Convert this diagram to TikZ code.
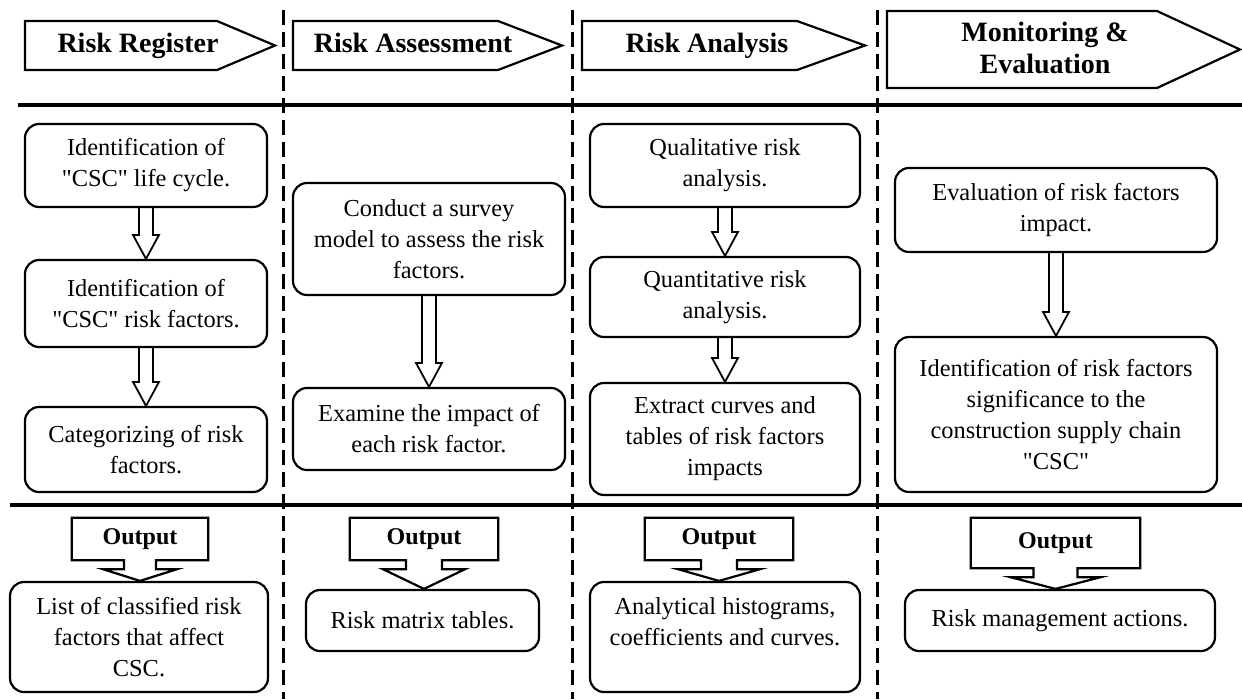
\documentclass[tikz,border=0pt]{standalone}
\usepackage{fontspec}
\setmainfont{Liberation Serif}
\usetikzlibrary{calc}

\begin{document}
\begin{tikzpicture}[x=1pt, y=-1pt,
    stepbox/.style={draw, line width=2.2pt, rounded corners=14pt, align=center, inner sep=0pt,
        font=\fontsize{24.4}{31}\selectfont},
    header/.style={draw, line width=2.2pt, line join=miter},
    headtext/.style={align=center, inner sep=0pt, font=\fontsize{28}{32}\selectfont\bfseries},
    oneline/.style={text height=19pt, text depth=6pt},
    outtext/.style={inner sep=0pt, font=\fontsize{24}{28}\selectfont\bfseries},
    callout/.style={draw, line width=2.2pt, line join=miter},
    hollow/.style={draw, line width=1.8pt, line join=miter},
    sepline/.style={line width=3.5pt},
    laneline/.style={line width=3pt, dash pattern=on 15pt off 7pt}]
    \useasboundingbox (0,0) rectangle (1242,699);

    % lanes and rows
    \foreach \x in {283,572,877} \draw[laneline] (\x,10) -- (\x,699);
    \draw[sepline] (18,105) -- (1242,105);
    \draw[sepline] (10,505) -- (1242,505);

    % Risk Register
    \draw[header] (25,21) -- (217,21) -- (275,45.5) -- (217,70) -- (25,70) -- cycle;
    \node[headtext, oneline] (hreg) at (138,45.5) {Risk Register};
    \node[stepbox, minimum width=242pt, minimum height=83pt] (reg1) at (146,165.5)
        {Identification of\\\textquotedbl CSC\textquotedbl{} life cycle.};
    \node[stepbox, minimum width=242pt, minimum height=87pt] (reg2) at (146,303.5)
        {Identification of\\\textquotedbl CSC\textquotedbl{} risk factors.};
    \node[stepbox, minimum width=242pt, minimum height=85pt] (reg3) at (146,449.5)
        {Categorizing of risk\\factors.};
    \node[stepbox, minimum width=258pt, minimum height=110pt] (res1) at (139,637)
        {List of classified risk\\factors that affect\\CSC.};

    % Risk Assessment
    \draw[header] (293,21) -- (498,21) -- (562,45.5) -- (498,70) -- (293,70) -- cycle;
    \node[headtext, oneline] (hass) at (413,45.5) {Risk Assessment};
    \node[stepbox, minimum width=272pt, minimum height=112pt] (ass1) at (429,239)
        {Conduct a survey\\model to assess the risk\\factors.};
    \node[stepbox, minimum width=272pt, minimum height=82pt] (ass2) at (429,429)
        {Examine the impact of\\each risk factor.};
    \node[stepbox, minimum width=233pt, minimum height=61pt] (res2) at (422.5,620.5)
        {Risk matrix tables.};

    % Risk Analysis
    \draw[header] (582,21) -- (797,21) -- (865,45.5) -- (797,70) -- (582,70) -- cycle;
    \node[headtext, oneline] (hana) at (707,45.5) {Risk Analysis};
    \node[stepbox, minimum width=270pt, minimum height=83pt] (ana1) at (725,165.5)
        {Qualitative risk\\analysis.};
    \node[stepbox, minimum width=270pt, minimum height=80pt] (ana2) at (725,297)
        {Quantitative risk\\analysis.};
    \node[stepbox, minimum width=270pt, minimum height=112pt] (ana3) at (725,439)
        {Extract curves and\\tables of risk factors\\impacts};
    \node[stepbox, minimum width=270pt, minimum height=110pt] (res3) at (725,637)
        {Analytical histograms,\\coefficients and curves.\\\phantom{x}};

    % Monitoring & Evaluation
    \draw[header] (887,11) -- (1157,11) -- (1240,49.5) -- (1157,88) -- (887,88) -- cycle;
    \node[headtext] (hmon) at (1045,48) {Monitoring \&\\Evaluation};
    \node[stepbox, minimum width=322pt, minimum height=84pt] (mon1) at (1056,210)
        {Evaluation of risk factors\\impact.};
    \node[stepbox, minimum width=322pt, minimum height=155pt] (mon2) at (1056,414.5)
        {Identification of risk factors\\significance to the\\construction supply chain\\\textquotedbl CSC\textquotedbl};
    \node[stepbox, minimum width=310pt, minimum height=61pt] (res4) at (1060,620.5)
        {Risk management actions.};

    % hollow arrows between steps
    \foreach \a/\b in {reg1/reg2, reg2/reg3, ass1/ass2, ana1/ana2, ana2/ana3, mon1/mon2}
        \draw[hollow] ($(\a.south)+(-7,0)$) -- ($(\b.north)+(-7,-24)$) -- ($(\b.north)+(-13,-24)$)
            -- (\b.north) -- ($(\b.north)+(13,-24)$) -- ($(\b.north)+(7,-24)$) -- ($(\a.south)+(7,0)$);

    % output callouts
    \foreach \i/\cx/\cy/\w/\h/\s/\k in {1/140/539/136/42/16/37, 2/424/539/148/42/18/41,
            3/719/539/148/42/18/41, 4/1055.5/543/169/50/22/45} {
        \node[outtext, minimum width=\w pt, minimum height=\h pt] (out\i) at (\cx,\cy) {Output};
        \draw[callout] ($(out\i.south)+(-\s,0)$) -- (out\i.south west) -- (out\i.north west)
            -- (out\i.north east) -- (out\i.south east) -- ($(out\i.south)+(\s,0)$)
            -- ($(out\i.south)+(\s,9)$) -- ($(out\i.south)+(\k,9)$) -- (out\i.south |- res\i.north)
            -- ($(out\i.south)+(-\k,9)$) -- ($(out\i.south)+(-\s,9)$) -- cycle;
    }
\end{tikzpicture}
\end{document}
